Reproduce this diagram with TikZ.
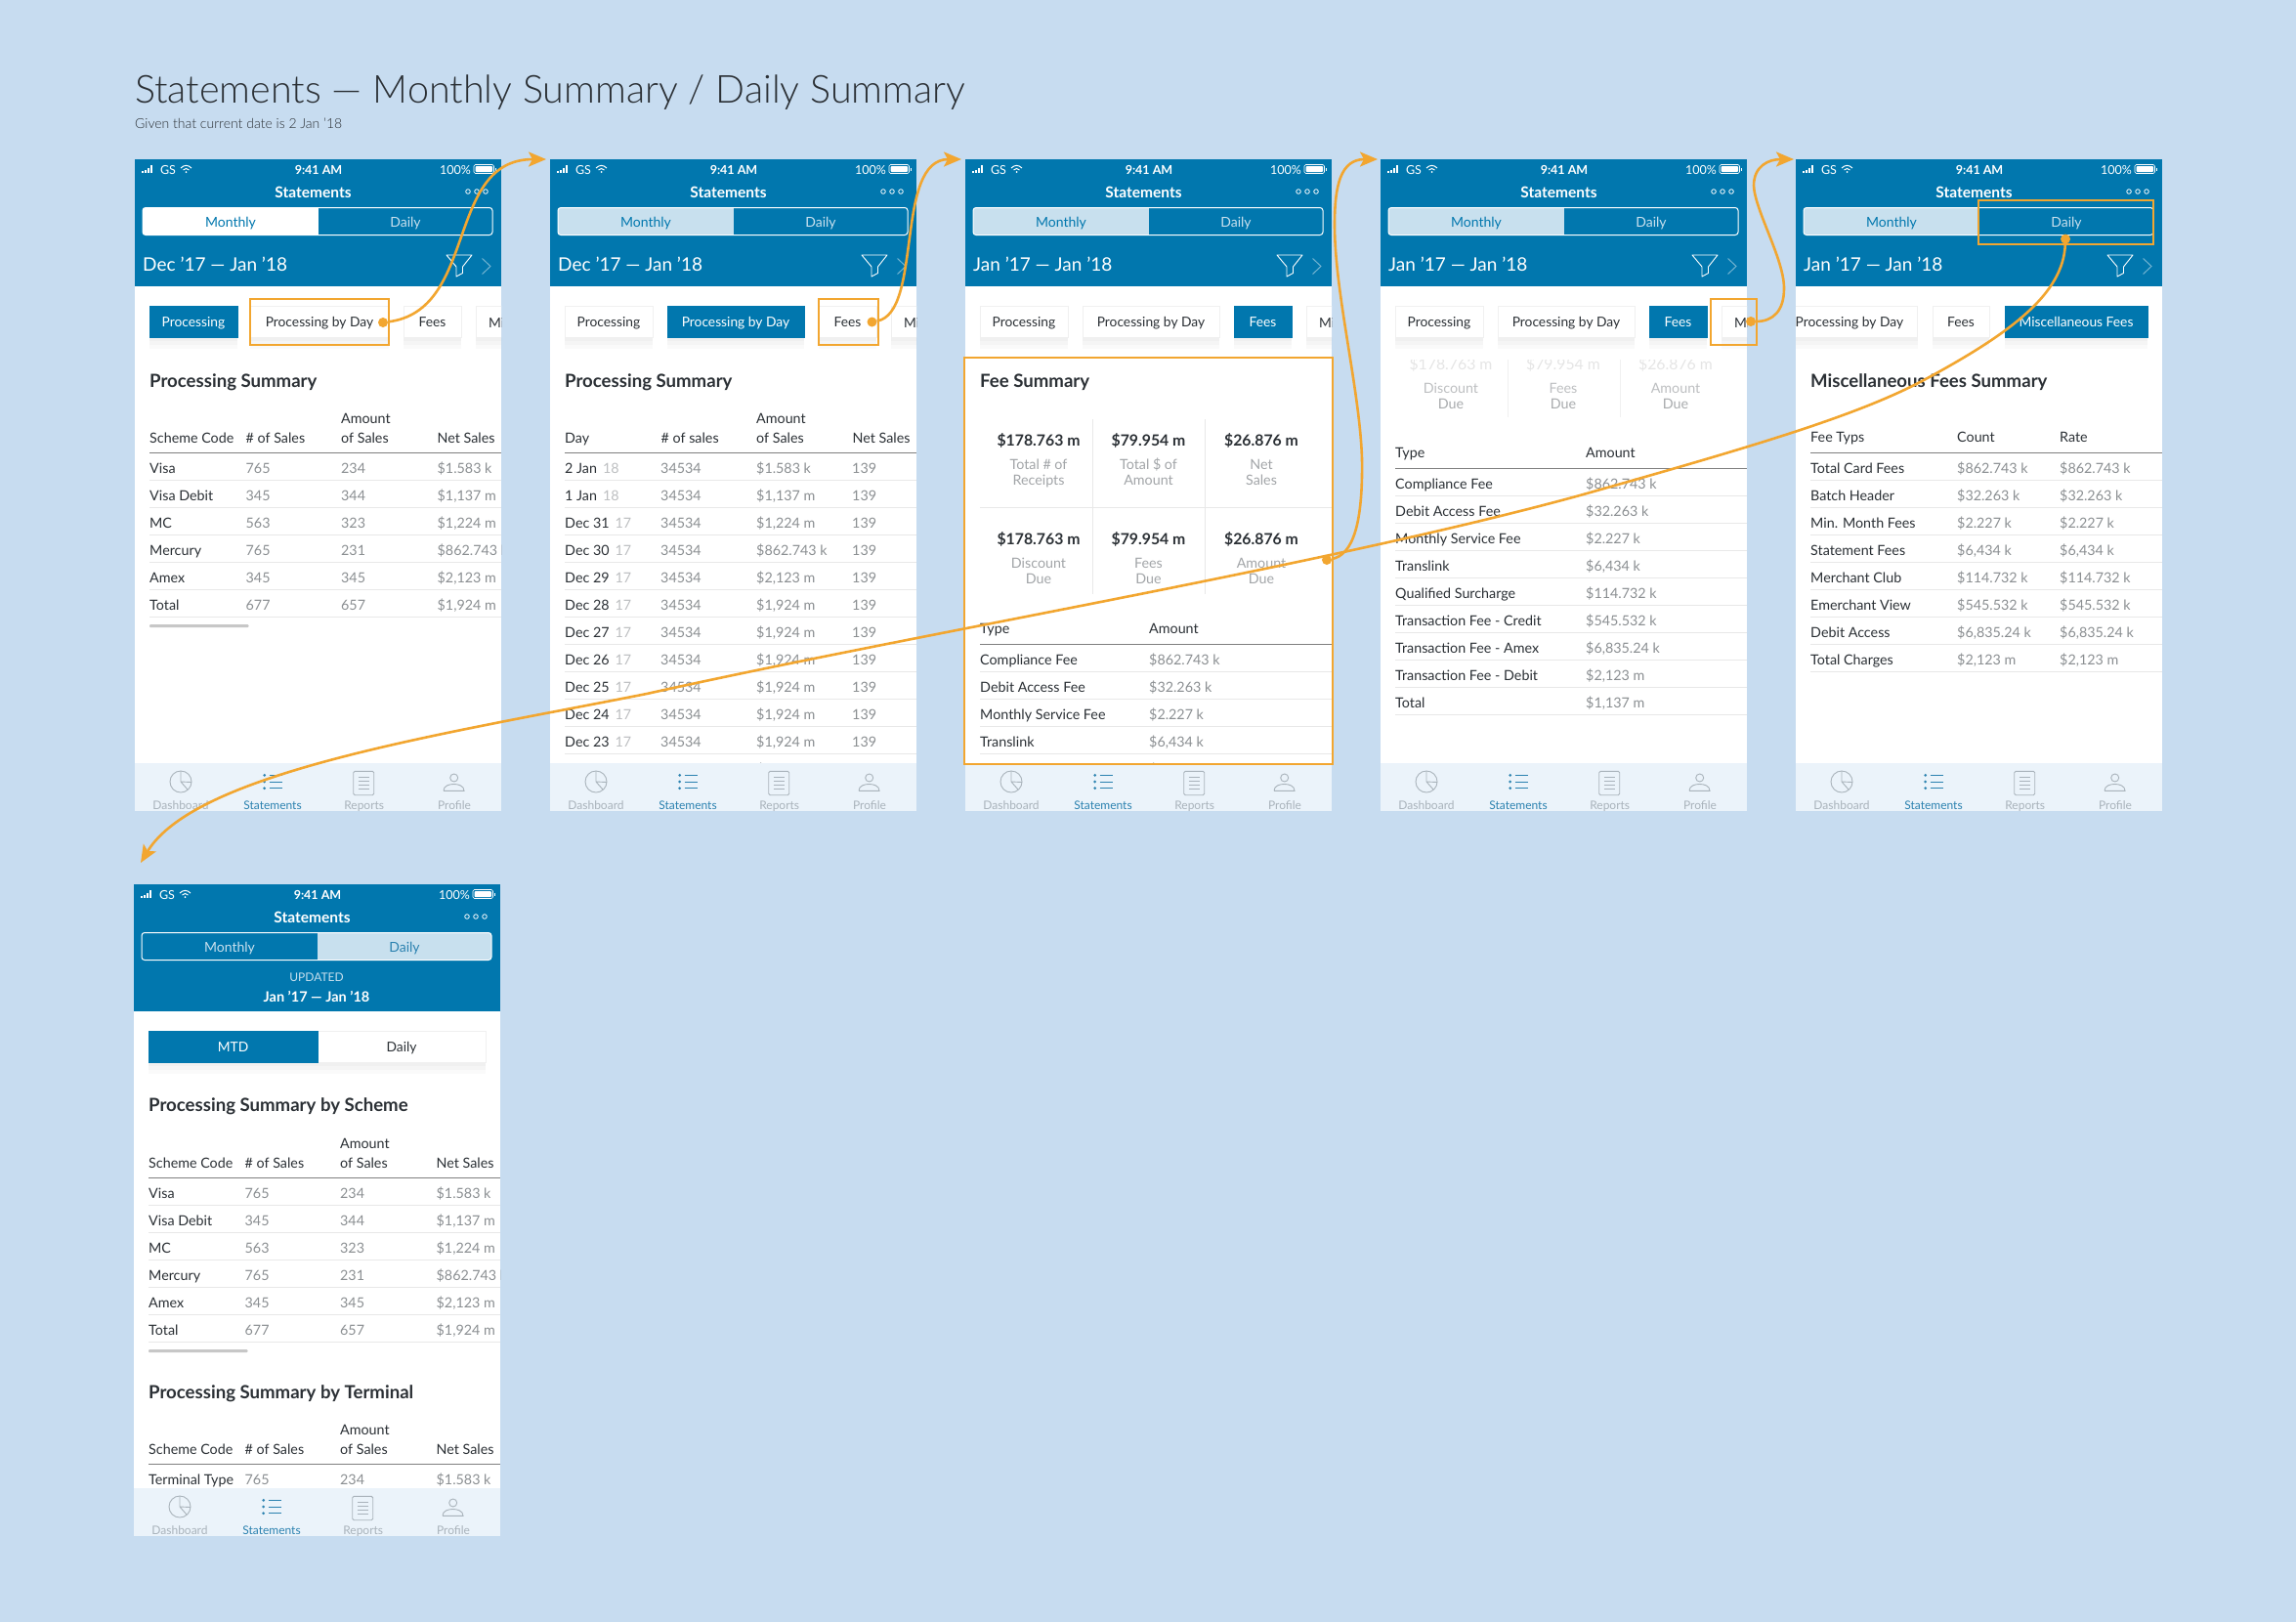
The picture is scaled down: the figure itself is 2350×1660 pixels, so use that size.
\documentclass[tikz,border=0pt]{standalone}
\usepackage{fontspec}
\setmainfont{Lato}
\newfontfamily\lightfont{Lato Light}
\usetikzlibrary{arrows.meta,shadows}
\definecolor{pagebg}{HTML}{C7DCF0}
\definecolor{barblue}{HTML}{0177AE}
\definecolor{segpale}{HTML}{C8E0EE}
\definecolor{navpale}{HTML}{EBF3FA}
\definecolor{inkdark}{HTML}{2B3035}
\definecolor{inkgray}{HTML}{8B8F92}
\definecolor{inkpale}{HTML}{BDBFC1}
\definecolor{iconblue}{HTML}{2C82B0}
\definecolor{icongray}{HTML}{A9B3BB}
\definecolor{flowc}{HTML}{F2A630}
\newcount\cellid
\tikzset{
  txt/.style={inner sep=0pt,text=inkdark,font=\fontsize{14.3}{16}\selectfont},
  cellL/.style={txt,anchor=base west},
  cellG/.style={cellL,text=inkgray},
  cellC/.style={txt,anchor=base},
  paleC/.style={cellC,text=inkpale},
  grayC/.style={cellC,text=inkgray},
  boldC/.style={cellC,font=\fontsize{15.8}{18}\bfseries\selectfont},
  heading/.style={cellL,font=\fontsize{18.6}{20}\bfseries\selectfont},
  hdrtxt/.style={cellC,text=white,font=\fontsize{14}{16}\selectfont},
  navtxt/.style={cellC,text=icongray,font=\fontsize{12}{13}\selectfont},
  softedge/.style={general shadow={shadow xshift=0pt,shadow yshift=-#1pt,opacity=0.018,fill=black}},
  tabbtn/.style={draw=black!6,fill=white,line width=0.6pt,inner sep=0pt,minimum height=32pt,
    text height=10.5pt,text depth=0.5pt,font=\fontsize{13.8}{15}\selectfont,text=inkdark,
    softedge=12,softedge=8,softedge=4},
  tabon/.style={fill=barblue,draw=barblue,text=white},
  rowrule/.style={draw=black!9,line width=0.8pt},
  headrule/.style={draw=black!50,line width=0.9pt},
  hilite/.style={draw=flowc,line width=2pt},
  hotdot/.style={circle,fill=flowc,inner sep=0pt,minimum size=10pt},
  flow/.style={draw=flowc,line width=2.6pt,-{Stealth[length=18pt,width=15pt,inset=4pt]}},
  navicon/.style={draw=icongray,line width=0.9pt},
}
% text at a row centre, with a generated name
\newcommand{\cell}[4]{\global\advance\cellid by 1
  \node[#1,name=t\the\cellid] at (#2,{#3+6}) {#4};}
\newcommand{\tabcell}[4][]{\global\advance\cellid by 1
  \node[tabbtn,#1,name=b\the\cellid,minimum width={(#3-#2)*1pt}] at ({(#2+#3)/2},166) {#4};}
\newcommand{\rowrules}[2]{\foreach \k in {1,...,#2}{
  \draw[rowrule] (15,{#1+28*(\k-1)}) -- (375,{#1+28*(\k-1)});}}
% status row, title, menu dots
\newcommand{\phonetop}{
  \fill[white] (0,0) rectangle (375,667);
  \fill[barblue] (0,0) rectangle (375,130);
  \foreach \x/\h in {7/2,10/3.5,13/5.5,16/8}{\fill[white] (\x,14) rectangle ++(2.2,-\h);}
  \cell{hdrtxt,font=\fontsize{12.5}{14}\selectfont}{34}{9.5}{GS}
  \draw[white,line width=1pt] (47,9) .. controls (50.5,5.5) and (54.5,5.5) .. (58,9);
  \draw[white,line width=1pt] (49.5,11) .. controls (51.5,9) and (53.5,9) .. (55.5,11);
  \fill[white] (52.5,13) circle (1);
  \cell{hdrtxt,font=\fontsize{12.5}{14}\bfseries\selectfont}{188}{9.5}{9:41 AM}
  \cell{hdrtxt,font=\fontsize{12.5}{14}\selectfont}{328}{9.5}{100\%}
  \draw[white,line width=0.6pt,rounded corners=1.5] (347,5.5) rectangle (367.5,14.5);
  \fill[white,rounded corners=1] (348.5,7) rectangle (366,13);
  \fill[white] (368.5,8.5) rectangle (369.5,11.5);
  \cell{hdrtxt,font=\fontsize{15.5}{17}\bfseries\selectfont}{182.5}{33.5}{Statements}
  \foreach \x in {341,350,359}{\draw[white,line width=0.8pt] (\x,33) circle (2.3);}
}
% Monthly / Daily switch: fill and text colours of both halves
\newcommand{\segbar}[4]{
  \begin{scope}
    \clip[rounded corners=3] (8,49.5) rectangle (366,77.5);
    \fill[#1] (8,49.5) rectangle (188,77.5);
    \fill[#3] (188,49.5) rectangle (366,77.5);
  \end{scope}
  \draw[white,line width=1pt,rounded corners=3] (8,49.5) rectangle (366,77.5);
  \cell{hdrtxt,text=#2}{98}{63.5}{Monthly}
  \cell{hdrtxt,text=#4}{277}{63.5}{Daily}
}
\newcommand{\datebar}[1]{
  \cell{cellL,text=white,font=\fontsize{19}{21}\selectfont}{8}{108}{#1}
  \draw[white,line width=0.9pt,line join=round] (319,98) -- (345,98) -- (335.5,110) -- (335.5,116.5) -- (329,120) -- (329,110) -- cycle;
  \draw[white!45!barblue,line width=1pt] (355.5,101.5) -- (364,109.5) -- (355.5,117.5);
}
% bottom navigation, drawn over the page content
\newcommand{\navbar}{
  \fill[navpale] (0,618) rectangle (375,667);
  \draw[navicon] (47,637) circle (11);
  \draw[navicon] (47,626) -- (47,637) -- (58,637.5) (47,637) -- (54,645);
  \fill[iconblue] (132.7,630.3) circle (1.5) (132.7,637) circle (1.5) (132.7,643.7) circle (1.5);
  \foreach \y in {630.3,637,643.7}{\draw[iconblue,line width=1pt] (137.7,\y) -- (151.3,\y);}
  \draw[navicon,rounded corners=1.5] (223.7,626.3) rectangle (244.7,650.7);
  \foreach \y in {632.7,636.7,640.7,644.7}{\draw[icongray,line width=0.9pt] (228.7,\y) -- (239.7,\y);}
  \draw[navicon] (326.7,633) circle (4);
  \draw[navicon] (316,646.3) -- (337,646.3) .. controls (337,641) and (331,639.5) .. (326.5,639.5) .. controls (322,639.5) and (316,641) .. (316,646.3);
  \cell{navtxt}{47}{659}{Dashboard}
  \cell{navtxt,text=iconblue}{141}{659}{Statements}
  \cell{navtxt}{234.7}{659}{Reports}
  \cell{navtxt}{327}{659}{Profile}
}
\newcommand{\tabrow}[4]{
  \tabcell[#1]{15}{105}{Processing}
  \tabcell[#2]{#4}{260}{Processing by Day}
  \tabcell[#3]{275}{334}{Fees}
  \tabcell{349}{420}{}
  \cell{cellL,font=\fontsize{13.8}{15}\selectfont}{362}{166}{Mi}
}
\newcommand{\salesrows}[1]{
  \foreach \nm/\a/\b/\c [count=\i from 0] in {Visa/765/234/{\$1.583 k},Visa Debit/345/344/{\$1,137 m},MC/563/323/{\$1,224 m},Mercury/765/231/{\$862.743 k},Amex/345/345/{\$2,123 m},Total/677/657/{\$1,924 m}}{
    \cell{cellL}{15}{315+28*\i}{\nm}
    \cell{cellG}{113.5}{315+28*\i}{\a}
    \cell{cellG}{211}{315+28*\i}{\b}
    \cell{cellG}{309.5}{315+28*\i}{\c}
  }
  \rowrules{328.4}{6}
  \fill[black!22,rounded corners=1] (15,476) rectangle (116.5,479);
}
\newcommand{\saleshead}[3]{
  \cell{cellL}{15}{#1+19.5}{#2}
  \cell{cellL}{113.5}{#1+19.5}{#3}
  \cell{cellL}{211}{#1}{Amount}
  \cell{cellL}{211}{#1+19.5}{of Sales}
  \cell{cellL}{309.5}{#1+19.5}{Net Sales}
  \draw[headrule] (15,{#1+36}) -- (375,{#1+36});
}
\begin{document}
\begin{tikzpicture}[x=1pt,y=-1pt,line cap=butt]
\fill[pagebg] (0,0) rectangle (2350,1660);
\useasboundingbox (0,0) rectangle (2350,1660);
\node[anchor=base west,inner sep=0pt,text=inkdark,font=\lightfont\fontsize{39.5}{46}\selectfont] (headline) at (138,105) {Statements — Monthly Summary / Daily Summary};
\node[anchor=base west,inner sep=0pt,text=inkdark,font=\lightfont\fontsize{14}{16}\selectfont] (subline) at (138,131) {Given that current date is 2 Jan ’18};

% screen 1
\begin{scope}[shift={(138,163)},name prefix=p1-]
  \clip (0,0) rectangle (375,667);
  \phonetop \segbar{white}{barblue}{barblue}{segpale} \datebar{Dec ’17 — Jan ’18}
  \tabrow{tabon}{}{}{118}
  \cell{heading}{15}{227}{Processing Summary}
  \saleshead{264.5}{Scheme Code}{\# of Sales}
  \salesrows{}
  \navbar
\end{scope}

% screen 2
\begin{scope}[shift={(563,163)},name prefix=p2-]
  \clip (0,0) rectangle (375,667);
  \phonetop \segbar{segpale}{barblue}{barblue}{segpale} \datebar{Dec ’17 — Jan ’18}
  \tabrow{}{tabon}{}{120}
  \cell{heading}{15}{227}{Processing Summary}
  \saleshead{264.5}{Day}{\# of sales}
  \foreach \d/\yr/\v [count=\i from 0] in {2 Jan/18/{\$1.583 k},1 Jan/18/{\$1,137 m},Dec 31/17/{\$1,224 m},Dec 30/17/{\$862.743 k},Dec 29/17/{\$2,123 m},Dec 28/17/{\$1,924 m},Dec 27/17/{\$1,924 m},Dec 26/17/{\$1,924 m},Dec 25/17/{\$1,924 m},Dec 24/17/{\$1,924 m},Dec 23/17/{\$1,924 m},Dec 22/17/{\$1,924 m}}{
    \cell{cellL}{15}{315+28*\i}{\d\hspace{6pt}\textcolor{inkpale}{\yr}}
    \cell{cellG}{113}{315+28*\i}{34534}
    \cell{cellG}{211}{315+28*\i}{\v}
    \cell{cellG}{309}{315+28*\i}{139}
  }
  \rowrules{328.4}{11}
  \navbar
\end{scope}

% screen 3
\begin{scope}[shift={(988,163)},name prefix=p3-]
  \clip (0,0) rectangle (375,667);
  \phonetop \segbar{segpale}{barblue}{barblue}{segpale} \datebar{Jan ’17 — Jan ’18}
  \tabrow{}{}{tabon}{120}
  \cell{heading}{15}{227}{Fee Summary}
  \foreach \x/\v/\p/\q/\r/\s in {75/{\$178.763 m}/Total \# of/Receipts/Discount/Due,187.5/{\$79.954 m}/Total \$ of/Amount/Fees/Due,303/{\$26.876 m}/Net/Sales/Amount/Due}{
    \cell{boldC}{\x}{287.5}{\v}
    \cell{grayC,text=inkgray!80}{\x}{311.5}{\p}
    \cell{grayC,text=inkgray!80}{\x}{327.5}{\q}
    \cell{boldC}{\x}{388.3}{\v}
    \cell{grayC,text=inkgray!80}{\x}{412.4}{\r}
    \cell{grayC,text=inkgray!80}{\x}{428.5}{\s}
  }
  \draw[rowrule] (15,356.6) -- (375,356.6);
  \draw[rowrule] (130,266) -- (130,444.6) (245.5,266) -- (245.5,444.6);
  \cell{cellL}{15}{479.4}{Type}
  \cell{cellL}{188}{479.4}{Amount}
  \draw[headrule] (15,496) -- (375,496);
  \foreach \nm/\v [count=\i from 0] in {Compliance Fee/{\$862.743 k},Debit Access Fee/{\$32.263 k},Monthly Service Fee/{\$2.227 k},Translink/{\$6,434 k},Qualified Surcharge/{\$114.732 k}}{
    \cell{cellL}{15}{511+28*\i}{\nm}
    \cell{cellG}{188}{511+28*\i}{\v}
  }
  \rowrules{524.5}{4}
  \navbar
\end{scope}

% screen 4
\begin{scope}[shift={(1413,163)},name prefix=p4-]
  \clip (0,0) rectangle (375,667);
  \phonetop \segbar{segpale}{barblue}{barblue}{segpale} \datebar{Jan ’17 — Jan ’18}
  \begin{scope}
    \clip (0,205) rectangle (375,300);
    \foreach \x/\v/\r in {72/{\$178.763 m}/Discount,187/{\$79.954 m}/Fees,302/{\$26.876 m}/Amount}{
      \cell{boldC,text=black!10,font=\fontsize{15.8}{18}\selectfont}{\x}{209}{\v}
      \cell{paleC}{\x}{233}{\r}
      \cell{paleC,text=inkgray!75}{\x}{249}{Due}
    }
  \end{scope}
  \draw[rowrule,draw=black!6] (130,205) -- (130,264) (245.5,205) -- (245.5,264);
  \tabrow{}{}{tabon}{120}
  \cell{cellL}{15}{299.5}{Type}
  \cell{cellL}{210}{299.5}{Amount}
  \draw[headrule] (15,316.5) -- (375,316.5);
  \foreach \nm/\v [count=\i from 0] in {Compliance Fee/{\$862.743 k},Debit Access Fee/{\$32.263 k},Monthly Service Fee/{\$2.227 k},Translink/{\$6,434 k},Qualified Surcharge/{\$114.732 k},Transaction Fee - Credit/{\$545.532 k},Transaction Fee - Amex/{\$6,835.24 k},Transaction Fee - Debit/{\$2,123 m},Total/{\$1,137 m}}{
    \cell{cellL}{15}{331+28*\i}{\nm}
    \cell{cellG}{210}{331+28*\i}{\v}
  }
  \rowrules{344.5}{9}
  \navbar
\end{scope}

% screen 5
\begin{scope}[shift={(1838,163)},name prefix=p5-]
  \clip (0,0) rectangle (375,667);
  \phonetop \segbar{segpale}{barblue}{barblue}{segpale} \datebar{Jan ’17 — Jan ’18}
  \tabcell{-15}{124.7}{Processing by Day}
  \tabcell{140}{198}{Fees}
  \tabcell[tabon]{214}{360}{Miscellaneous Fees}
  \cell{heading}{15}{227}{Miscellaneous Fees Summary}
  \cell{cellL}{15}{283.4}{Fee Typs}
  \cell{cellL}{165}{283.4}{Count}
  \cell{cellL}{270}{283.4}{Rate}
  \draw[headrule] (15,300.4) -- (375,300.4);
  \foreach \nm/\v [count=\i from 0] in {Total Card Fees/{\$862.743 k},Batch Header/{\$32.263 k},Min. Month Fees/{\$2.227 k},Statement Fees/{\$6,434 k},Merchant Club/{\$114.732 k},Emerchant View/{\$545.532 k},Debit Access/{\$6,835.24 k},Total Charges/{\$2,123 m}}{
    \cell{cellL}{15}{315+28*\i}{\nm}
    \cell{cellG}{165}{315+28*\i}{\v}
    \cell{cellG}{270}{315+28*\i}{\v}
  }
  \rowrules{328.5}{8}
  \navbar
\end{scope}

% screen 6
\begin{scope}[shift={(137,905)},name prefix=p6-]
  \clip (0,0) rectangle (375,667);
  \phonetop \segbar{barblue}{segpale}{segpale}{iconblue}
  \cell{hdrtxt,text=segpale,font=\fontsize{12}{14}\selectfont}{187}{93.7}{UPDATED}
  \cell{hdrtxt,font=\fontsize{14.5}{16}\bfseries\selectfont}{187}{114}{Jan ’17 — Jan ’18}
  \tabcell{188}{360}{Daily}
  \tabcell[tabon]{15}{188}{MTD}
  \cell{heading}{15}{226.6}{Processing Summary by Scheme}
  \saleshead{264.5}{Scheme Code}{\# of Sales}
  \salesrows{}
  \cell{heading}{15}{520}{Processing Summary by Terminal}
  \saleshead{557.5}{Scheme Code}{\# of Sales}
  \cell{cellL}{15}{608}{Terminal Type}
  \cell{cellG}{113.5}{608}{765}
  \cell{cellG}{211}{608}{234}
  \cell{cellG}{309.5}{608}{\$1.583 k}
  \navbar
\end{scope}

% highlights
\draw[hilite] (255.5,306) rectangle (398,353);
\draw[hilite] (838,306) rectangle (898.6,353);
\draw[hilite] (987,366) rectangle (1364,782);
\draw[hilite] (1751,306) rectangle (1798,353);
\draw[hilite] (2025,204.5) rectangle (2204.4,250.4);

\node[hotdot] (dot1) at (392,330) {};
\node[hotdot] (dot2) at (892.5,329.5) {};
\node[hotdot] (dot3) at (1358,573) {};
\node[hotdot] (dot4) at (1792,329) {};
\node[hotdot] (dot5) at (2114,244.6) {};
\coordinate (tip2) at (559,163);
\coordinate (tip3) at (984,163);
\coordinate (tip4) at (1410,163);
\coordinate (tip5) at (1836,163);
\coordinate (tip6) at (144,883);

\draw[flow] (dot1) .. controls (490,318) and (455,163) .. (tip2);
\draw[flow] (dot2) .. controls (945,320) and (915,163) .. (tip3);
\draw[flow] (dot3) .. controls (1385,568) and (1395,535) .. (1394,470) .. controls (1392,400) and (1366,300) .. (1366,230) .. controls (1366,190) and (1372,163) .. (tip4);
\draw[flow] (dot4) .. controls (1815,329) and (1826,318) .. (1826,295) .. controls (1826,265) and (1796,215) .. (1795,190) .. controls (1795,170) and (1810,163) .. (tip5);
\draw[flow] (dot5) .. controls (2112,300) and (2060,340) .. (1969,389) .. controls (1900,426) and (1790,458) .. (1617,507) .. controls (1350,580) and (950,646) .. (662,710) .. controls (450,752) and (200,790) .. (tip6);
\end{tikzpicture}
\end{document}
